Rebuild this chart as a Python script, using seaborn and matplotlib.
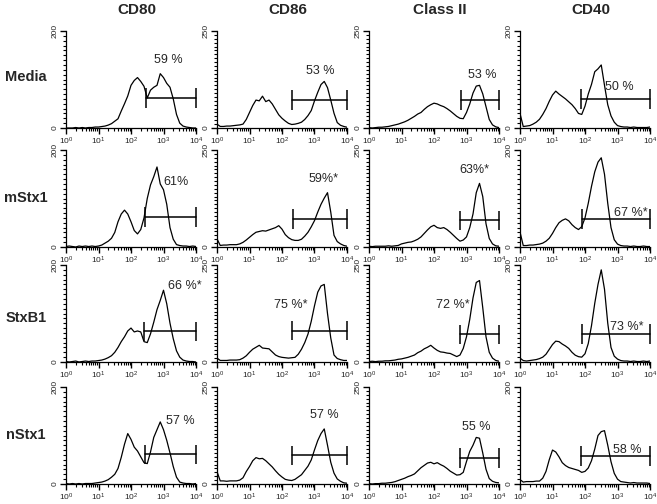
import numpy as np
import pandas as pd
import matplotlib.pyplot as plt
import seaborn as sns
from matplotlib.ticker import LogLocator, MultipleLocator, NullFormatter

sns.set_style('ticks')
plt.rcParams['font.family'] = ['Liberation Sans', 'DejaVu Sans']
plt.rcParams['mathtext.fontset'] = 'custom'
plt.rcParams['mathtext.rm'] = 'Liberation Sans'
plt.rcParams['mathtext.it'] = 'Liberation Sans:italic'
plt.rcParams['mathtext.bf'] = 'Liberation Sans:bold'

# Panel layout
markers = ['CD80', 'CD86', 'Class II', 'CD40']
treatments = ['Media', 'mStx1', 'StxB1', 'nStx1']
y_max = [200, 250, 250, 200]
x_tick_labels = ['$10^{0}$', '$10^{1}$', '$10^{2}$', '$10^{3}$', '$10^{4}$']

# fluorescence channels, in decades (10^0 .. 10^4)
log_bins = np.linspace(0, 4, 41)

# Cell counts per channel
media_cd80 = [0, 0, 0, 1, 0, 1, 0, 1, 1, 2, 2, 3, 4, 6, 9, 14, 19, 35, 50, 66, 88,
              98, 104, 96, 86, 62, 78, 84, 88, 112, 104, 92, 84, 60, 28, 10, 4, 2, 1, 0, 0]
media_cd86 = [10, 4, 4, 5, 5, 6, 7, 8, 10, 22, 40, 58, 72, 70, 82, 68, 72, 62, 48, 34, 25,
              18, 12, 9, 10, 12, 15, 22, 32, 45, 70, 92, 112, 120, 104, 72, 38, 14, 7, 4, 2]
media_cl2 = [1, 0, 1, 2, 2, 3, 4, 6, 8, 10, 13, 16, 20, 25, 30, 36, 40, 48, 55, 60, 64,
             62, 58, 55, 50, 44, 37, 30, 25, 24, 40, 62, 90, 108, 110, 88, 55, 22, 8, 3, 1]
media_cd40 = [30, 3, 4, 5, 8, 12, 18, 28, 40, 55, 68, 76, 70, 65, 60, 54, 48, 40, 30, 28, 45,
              70, 90, 116, 122, 130, 88, 48, 25, 12, 5, 3, 2, 2, 1, 2, 1, 1, 1, 1, 2]

mstx1_cd80 = [1, 2, 1, 0, 2, 1, 2, 1, 2, 1, 2, 4, 8, 12, 18, 30, 52, 68, 76, 68, 52,
              34, 27, 36, 60, 100, 128, 145, 165, 130, 118, 88, 40, 16, 5, 3, 2, 2, 1, 2, 1]
mstx1_cd86 = [21, 4, 5, 5, 6, 6, 6, 8, 12, 18, 25, 32, 38, 40, 42, 41, 44, 47, 50, 55, 46,
              32, 24, 19, 17, 17, 20, 28, 38, 52, 68, 90, 110, 126, 140, 90, 30, 14, 8, 4, 2]
mstx1_cl2 = [2, 1, 2, 2, 2, 2, 3, 2, 3, 4, 8, 10, 12, 13, 16, 20, 26, 35, 44, 52, 56,
             50, 48, 50, 45, 38, 30, 22, 15, 18, 26, 50, 85, 140, 164, 130, 60, 22, 8, 3, 2]
mstx1_cd40 = [31, 3, 3, 4, 4, 5, 6, 8, 12, 18, 28, 40, 50, 55, 58, 54, 46, 40, 36, 42, 60,
              90, 125, 155, 175, 184, 150, 90, 40, 15, 6, 3, 2, 2, 1, 2, 1, 1, 2, 1, 1]

stxb1_cd80 = [1, 0, 1, 2, 0, 1, 2, 1, 2, 2, 3, 4, 6, 9, 13, 20, 30, 42, 52, 64, 70,
              62, 64, 62, 42, 40, 58, 82, 108, 127, 148, 120, 80, 48, 23, 10, 4, 2, 1, 1, 0]
stxb1_cd86 = [10, 4, 4, 4, 5, 5, 5, 6, 10, 16, 25, 33, 38, 43, 36, 35, 34, 26, 18, 14, 12,
              11, 10, 11, 12, 20, 33, 50, 72, 105, 145, 180, 196, 200, 125, 62, 18, 9, 6, 4, 4]
stxb1_cl2 = [1, 2, 1, 2, 2, 3, 3, 4, 5, 7, 8, 10, 12, 15, 18, 24, 28, 34, 38, 43, 36,
             30, 26, 25, 23, 22, 18, 14, 18, 35, 65, 110, 165, 205, 210, 140, 65, 25, 10, 4, 2]
stxb1_cd40 = [8, 3, 2, 3, 4, 5, 7, 10, 16, 26, 36, 43, 42, 37, 33, 28, 20, 14, 11, 10, 17,
              38, 75, 121, 160, 190, 150, 80, 30, 12, 6, 3, 2, 2, 1, 2, 1, 1, 2, 1, 2]

nstx1_cd80 = [1, 0, 1, 0, 1, 0, 1, 1, 1, 2, 3, 4, 6, 9, 14, 20, 32, 55, 82, 104, 92,
              76, 68, 56, 44, 42, 66, 96, 112, 128, 112, 90, 64, 36, 14, 4, 2, 1, 1, 0, 1]
nstx1_cd86 = [32, 8, 8, 7, 8, 8, 8, 10, 16, 32, 45, 60, 68, 65, 66, 60, 52, 44, 34, 25, 18,
              12, 10, 9, 12, 18, 24, 35, 46, 62, 88, 112, 130, 142, 100, 56, 28, 13, 7, 3, 2]
nstx1_cl2 = [1, 0, 1, 1, 2, 2, 3, 4, 6, 9, 12, 15, 19, 22, 26, 34, 42, 48, 54, 56, 52,
             55, 50, 46, 40, 33, 28, 23, 24, 30, 58, 84, 100, 120, 118, 80, 38, 14, 7, 4, 3]
nstx1_cd40 = [9, 4, 5, 5, 5, 6, 6, 12, 26, 50, 70, 66, 56, 44, 38, 34, 32, 30, 28, 24, 26,
              33, 48, 72, 100, 108, 110, 80, 46, 22, 10, 5, 4, 3, 2, 3, 2, 2, 2, 2, 1]

counts = [[media_cd80, media_cd86, media_cl2, media_cd40],
          [mstx1_cd80, mstx1_cd86, mstx1_cl2, mstx1_cd40],
          [stxb1_cd80, stxb1_cd86, stxb1_cl2, stxb1_cd40],
          [nstx1_cd80, nstx1_cd86, nstx1_cl2, nstx1_cd40]]

# marker gate: start (decade) and level (counts); gate ends at 10^4
gate_start = [[2.46, 2.31, 2.83, 1.87],
              [2.43, 2.35, 2.81, 1.90],
              [2.39, 2.30, 2.79, 1.92],
              [2.43, 2.32, 2.79, 1.88]]
gate_level = [[62, 72, 72, 60],
              [62, 72, 69, 58],
              [63, 81, 71, 58],
              [61, 74, 67, 58]]

pct_text = [['59 %', '53 %', '53 %', '50 %'],
            ['61%', '59%*', '63%*', '67 %*'],
            ['66 %*', '75 %*', '72 %*', '73 %*'],
            ['57 %', '57 %', '55 %', '58 %']]
pct_x = [[3.14, 3.17, 3.50, 3.05],
         [3.40, 3.27, 3.25, 3.40],
         [3.67, 2.28, 2.58, 3.28],
         [3.52, 3.30, 3.30, 3.30]]
pct_y = [[140, 148, 137, 85],
         [135, 174, 199, 71],
         [156, 148, 148, 73],
         [130, 177, 147, 71]]

W, H = 657, 504
col_left = [66, 217, 369, 520]
row_bottom = [128, 247, 362, 484]
ax_w, ax_h = 130, 97

fig = plt.figure(figsize=(W / 100, H / 100), dpi=100)

for i, treat in enumerate(treatments):
    for j, mark in enumerate(markers):
        ax = fig.add_axes([col_left[j] / W, 1 - row_bottom[i] / H, ax_w / W, ax_h / H])
        df = pd.DataFrame({'fl': 10 ** log_bins, 'n': counts[i][j]})
        sns.lineplot(data=df, x='fl', y='n', ax=ax, color='black', linewidth=0.9)
        ax.set_xscale('log')
        ax.set_xlim(1, 1e4)
        ax.set_ylim(0, y_max[j])

        # gate bar with end caps
        cap = 0.1 * y_max[j]
        g0 = 10 ** gate_start[i][j]
        lvl = gate_level[i][j]
        ax.plot([g0, 1e4], [lvl, lvl], color='black', linewidth=1.1, clip_on=False)
        ax.vlines([g0, 1e4], lvl - cap, lvl + cap, color='black', linewidth=1.1, clip_on=False)
        ax.text(10 ** pct_x[i][j], pct_y[i][j], pct_text[i][j], ha='center', va='center',
                fontsize=9)

        sns.despine(ax=ax)
        for s in ['left', 'bottom']:
            ax.spines[s].set_linewidth(0.9)
            ax.spines[s].set_color('black')
        ax.set_xlabel('')
        ax.set_ylabel('')
        ax.set_xticks([1, 10, 100, 1000, 10000])
        ax.set_xticklabels(x_tick_labels)
        ax.xaxis.set_minor_locator(LogLocator(base=10, subs=np.arange(2, 10), numticks=20))
        ax.xaxis.set_minor_formatter(NullFormatter())
        ax.set_yticks([0, y_max[j]])
        ax.set_yticklabels(['0', str(y_max[j])], rotation=90, va='center')
        ax.yaxis.set_minor_locator(MultipleLocator(10))
        ax.tick_params(which='major', length=4, width=1.0, color='black', labelsize=6, pad=1.5)
        ax.tick_params(which='minor', length=2.5, width=0.8, color='black')

for j, mark in enumerate(markers):
    fig.text((col_left[j] + ax_w / 2 + 6) / W, 1 - 10 / H, mark, ha='center', va='center',
             fontsize=11, fontweight='bold')

row_label_y = [77, 198, 318, 435]
for i, treat in enumerate(treatments):
    fig.text(26 / W, 1 - row_label_y[i] / H, treat, ha='center', va='center',
             fontsize=10.5, fontweight='bold')

fig.savefig('out.png', dpi=100)
